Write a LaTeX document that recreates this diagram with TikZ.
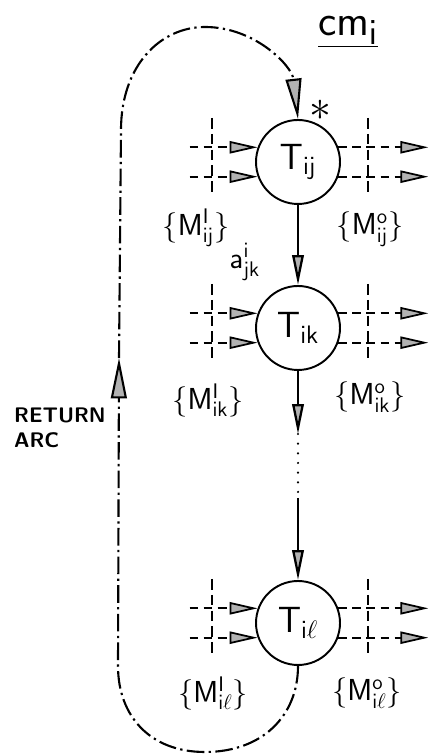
\documentclass[tikz,border=0pt]{standalone}
\usetikzlibrary{arrows.meta, calc}
\tikzset{
  task/.style={
    draw, circle, line width=1.1pt, minimum size=1.68cm,
    inner sep=0pt, font=\huge
  },
  flow/.style={-{Triangle[length=17pt,width=6.5pt,fill=gray!60]}, line width=1.3pt},
  stub/.style={
    dash pattern=on 5pt off 3pt, line width=1pt,
    -{Triangle[length=16pt,width=7pt,fill=gray!60]}
  },
  guide/.style={dash pattern=on 6pt off 3pt, line width=1pt},
  returnarc/.style={
    dash pattern=on 10pt off 2.5pt on 1.3pt off 2.5pt, line width=1.2pt,
    -{Triangle[length=23pt,width=9pt,fill=gray!60]}
  },
}
\begin{document}
\begin{tikzpicture}[
    x=0.02cm, y=0.02cm,
    lbl/.style={font=\LARGE, inner sep=1pt},
    note/.style={font=\LARGE, inner sep=1pt}
]
\useasboundingbox (0,0) rectangle (430,756);

\node[task] (tij) at (298,594) {$\mathsf{T}_{\mathsf{ij}}$};
\node[task] (tik) at (298,428) {$\mathsf{T}_{\mathsf{ik}}$};
\node[task] (til) at (298,133) {$\mathsf{T}_{\mathsf{i}\ell}$};

\coordinate (dotsin) at (298,322);
\coordinate (dotsout) at (298,258);

\draw[flow] (tij) -- (tik);
\draw[flow] (tik) -- (dotsin);
\draw[line width=1.4pt, line cap=round, dash pattern=on 0pt off 5.5pt] (dotsin) -- (dotsout);
\draw[flow] (dotsout) -- (til);

\foreach \n in {tij,tik,til} {
  \draw[stub] ($(\n.160)+(-68,0)$) -- (\n.160);
  \draw[stub] ($(\n.200)+(-68,0)$) -- (\n.200);
  \draw[stub] (\n.20) -- ($(\n.20)+(90,0)$);
  \draw[stub] (\n.-20) -- ($(\n.-20)+(90,0)$);
  \draw[guide] ($(\n)+(-86,44)$) -- ($(\n)+(-86,-32)$);
  \draw[guide] ($(\n)+(70,44)$) -- ($(\n)+(70,-32)$);
}

\coordinate (bottom) at (205,4);
\coordinate (lowleft) at (118,90);
\coordinate (midleft) at (119,398);
\coordinate (highleft) at (121,626);
\coordinate (top) at (205,729);

\draw[returnarc] (til.south) .. controls (298,40) and (262,4) .. (bottom)
  .. controls (150,4) and (118,40) .. (lowleft) -- (midleft);
\draw[returnarc] (midleft) -- (highleft) .. controls (121,690) and (160,729) .. (top)
  .. controls (255,729) and (292,690) .. (tij.north);

\node[lbl] (inij) at (196,528) {$\bigl\{\mathsf{M}^{\mathsf{I}}_{\mathsf{ij}}\bigr\}$};
\node[lbl] (outij) at (370,527) {$\bigl\{\mathsf{M}^{\mathsf{o}}_{\mathsf{ij}}\bigr\}$};
\node[note] (arc) at (245,494) {$\mathsf{a}^{\mathsf{i}}_{\mathsf{jk}}$};
\node[lbl] (inik) at (208,356) {$\bigl\{\mathsf{M}^{\mathsf{I}}_{\mathsf{ik}}\bigr\}$};
\node[lbl] (outik) at (370,359) {$\bigl\{\mathsf{M}^{\mathsf{o}}_{\mathsf{ik}}\bigr\}$};
\node[lbl] (inil) at (213,63) {$\bigl\{\mathsf{M}^{\mathsf{I}}_{\mathsf{i}\ell}\bigr\}$};
\node[lbl] (outil) at (367,63) {$\bigl\{\mathsf{M}^{\mathsf{o}}_{\mathsf{i}\ell}\bigr\}$};

\node[font=\fontsize{26}{26}\selectfont] (star) at (320,646) {$\ast$};
\node[font=\fontsize{32}{34}\selectfont] (cm) at (348,724)
{$\underline{\mathsf{cm}_{\mathsf{i}}}$};
\node[anchor=west, align=left, font=\sffamily\bfseries\large] (ret) at (8,328)
{RETURN\\ARC};

\end{tikzpicture}
\end{document}
